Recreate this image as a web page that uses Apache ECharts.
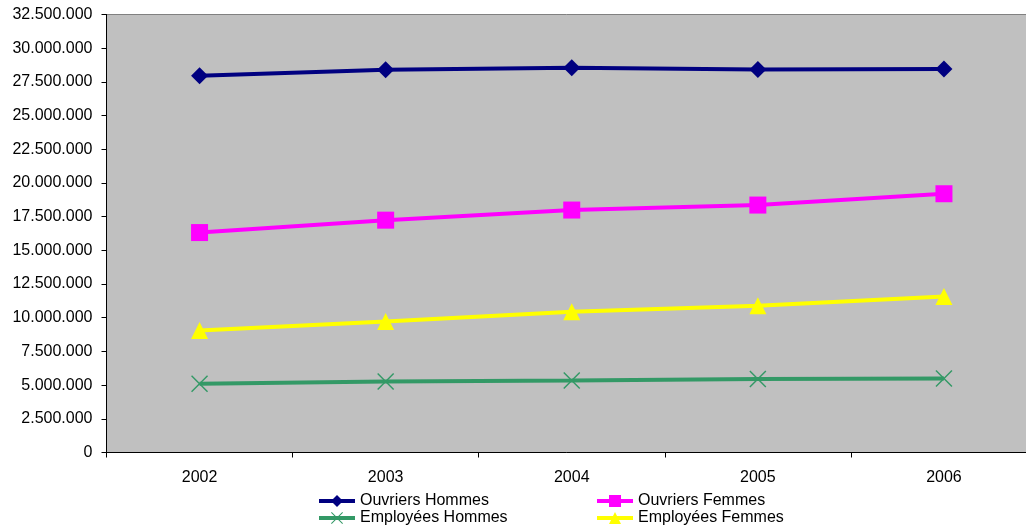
<!DOCTYPE html>
<html>
<head>
<meta charset="utf-8">
<script src="https://cdn.jsdelivr.net/npm/echarts@6/dist/echarts.min.js"></script>
<style>
html,body{margin:0;padding:0;background:#fff;}
#c{width:1026px;height:527px;}
</style>
</head>
<body>
<div id="c"></div>
<script>
const categories = ['2002', '2003', '2004', '2005', '2006'];
const ouvriersHommes = [27950000, 28400000, 28550000, 28420000, 28450000];
const ouvriersFemmes = [16320000, 17240000, 17990000, 18360000, 19200000];
const employeesHommes = [5100000, 5270000, 5340000, 5450000, 5490000];
const employeesFemmes = [9050000, 9720000, 10440000, 10890000, 11580000];
const yTicks = { min: 0, max: 32500000, interval: 2500000 };

const crossPath = 'path://M0,6 L6,0 L50,44 L94,0 L100,6 L56,50 L100,94 L94,100 L50,56 L6,100 L0,94 L44,50 Z';

function fmt(v) {
  return String(Math.round(v)).replace(/\B(?=(\d{3})+(?!\d))/g, '.');
}

const font = 'Liberation Sans, Arial, sans-serif';
const chart = echarts.init(document.getElementById('c'), null, { renderer: 'canvas' });

function mkSeries(name, data, color, symbol, size) {
  return {
    name: name,
    type: 'line',
    data: data,
    symbol: symbol,
    symbolSize: size,
    showAllSymbol: true,
    lineStyle: { color: color, width: 4 },
    itemStyle: { color: color },
    emphasis: { disabled: true },
    animation: false,
    z: 3
  };
}

function mkLegend(name, left, top) {
  return {
    orient: 'horizontal',
    left: left,
    top: top,
    padding: 0,
    itemWidth: 36,
    itemHeight: 15,
    itemGap: 0,
    lineStyle: { width: 4 },
    textStyle: { fontFamily: font, fontSize: 16, color: '#000' },
    selectedMode: false,
    data: [name]
  };
}

chart.setOption({
  backgroundColor: '#ffffff',
  animation: false,
  grid: {
    left: 106.5,
    top: 14.5,
    width: 930.5,
    height: 438,
    outerBoundsMode: 'none',
    show: true,
    backgroundColor: '#c0c0c0',
    borderColor: '#808080',
    borderWidth: 1,
    containLabel: false
  },
  legend: [
    mkLegend('Ouvriers Hommes', 317, 493),
    mkLegend('Employées Hommes', 317, 510),
    mkLegend('Ouvriers Femmes', 595, 493),
    mkLegend('Employées Femmes', 595, 510)
  ],
  xAxis: {
    type: 'category',
    data: categories,
    boundaryGap: true,
    axisLine: { show: true, lineStyle: { color: '#000', width: 1 } },
    axisTick: { show: true, length: 5, alignWithLabel: false, lineStyle: { color: '#000' } },
    axisLabel: { color: '#000', fontFamily: font, fontSize: 16, margin: 17 },
    splitLine: { show: false }
  },
  yAxis: {
    type: 'value',
    min: yTicks.min,
    max: yTicks.max,
    interval: yTicks.interval,
    axisLine: { show: true, lineStyle: { color: '#000', width: 1 } },
    axisTick: { show: true, length: 5, lineStyle: { color: '#000' } },
    axisLabel: { color: '#000', fontFamily: font, fontSize: 16, margin: 14, formatter: fmt },
    splitLine: { show: false }
  },
  series: [
    mkSeries('Ouvriers Hommes', ouvriersHommes, '#000080', 'diamond', [17, 17]),
    mkSeries('Ouvriers Femmes', ouvriersFemmes, '#ff00ff', 'rect', [17, 17]),
    mkSeries('Employées Hommes', employeesHommes, '#339966', crossPath, [17, 17]),
    mkSeries('Employées Femmes', employeesFemmes, '#ffff00', 'triangle', [17, 17])
  ]
});
</script>
</body>
</html>
